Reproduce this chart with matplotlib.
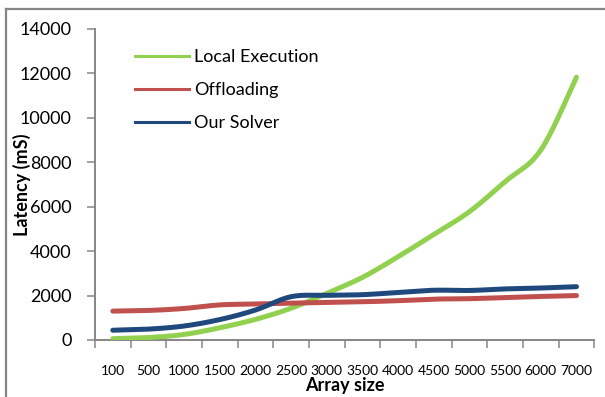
import numpy as np
import matplotlib
matplotlib.use("Agg")
import matplotlib.pyplot as plt
from matplotlib.lines import Line2D

plt.rcParams['font.family'] = ['Lato', 'DejaVu Sans']

# Array sizes and measured latencies (ms)
sizes = ["100", "500", "1000", "1500", "2000", "2500", "3000",
         "3500", "4000", "4500", "5000", "5500", "6000", "7000"]
local_execution = [60, 110, 250, 550, 930, 1430, 2100,
                   2820, 3750, 4750, 5780, 7130, 8550, 11830]
offloading = [1300, 1330, 1420, 1580, 1620, 1660, 1690,
              1720, 1770, 1840, 1860, 1910, 1960, 2000]
our_solver = [440, 490, 630, 920, 1350, 1950, 2010,
              2040, 2140, 2240, 2230, 2300, 2340, 2400]

series = [
    ("Local Execution", local_execution, "#92D050"),
    ("Offloading", offloading, "#C0504D"),
    ("Our Solver", our_solver, "#1F497D"),
]


def smooth(x, y, n=24):
    """Catmull-Rom curve through the points (Excel-style smoothed line)."""
    x = np.asarray(x, float)
    y = np.asarray(y, float)
    px = np.concatenate([[x[0]], x, [x[-1]]])
    py = np.concatenate([[y[0]], y, [y[-1]]])
    xs, ys = [], []
    for i in range(1, len(px) - 2):
        t = np.linspace(0, 1, n, endpoint=(i == len(px) - 3))
        for p, out in ((px, xs), (py, ys)):
            p0, p1, p2, p3 = p[i - 1], p[i], p[i + 1], p[i + 2]
            c1 = p1 + (p2 - p0) / 6
            c2 = p2 - (p3 - p1) / 6
            out.append((1 - t) ** 3 * p1 + 3 * (1 - t) ** 2 * t * c1
                       + 3 * (1 - t) * t ** 2 * c2 + t ** 3 * p2)
    return np.concatenate(xs), np.concatenate(ys)


W, H = 605, 397
AX_L, AX_R, AX_T, AX_B = 95, 594.3, 29, 340
fig = plt.figure(figsize=(W / 100, H / 100), dpi=100)
ax = fig.add_axes([AX_L / W, (H - AX_B) / H, (AX_R - AX_L) / W, (AX_B - AX_T) / H])


def ax_x(px):
    return (px - AX_L) / (AX_R - AX_L)


def ax_y(py):
    return (AX_B - py) / (AX_B - AX_T)


xpos = np.arange(len(sizes)) + 0.5
handles = []
for name, vals, color in series:
    sx, sy = smooth(xpos, vals)
    ax.plot(sx, sy, color=color, lw=3.6, solid_capstyle='round', zorder=3)
    handles.append(Line2D([0], [0], color=color, lw=2.2))

axis_grey = "#868686"
ax.set_xlim(0, len(sizes))
ax.set_ylim(0, 14000)
ax.set_yticks(np.arange(0, 14001, 2000))
ax.tick_params(axis='y', labelsize=13, length=6, width=1.1, color=axis_grey,
               pad=11)
ax.set_xticks(np.arange(0, len(sizes) + 1))
ax.set_xticklabels([])
ax.set_xticks(xpos, minor=True)
ax.set_xticklabels(sizes, minor=True)
ax.tick_params(axis='x', which='major', length=6, width=1.1, color=axis_grey)
ax.tick_params(axis='x', which='minor', length=0, labelsize=10, pad=18)

for s in ('top', 'right'):
    ax.spines[s].set_visible(False)
for s in ('left', 'bottom'):
    ax.spines[s].set_color(axis_grey)
    ax.spines[s].set_linewidth(1.4)

ax.set_xlabel("Array size", fontsize=13, fontweight='bold')
ax.xaxis.set_label_coords(0.5, ax_y(386))
ax.xaxis.label.set_va('center')
ax.set_ylabel("Latency (mS)", fontsize=13, fontweight='bold')
ax.yaxis.set_label_coords(ax_x(22), 0.5)
ax.yaxis.label.set_va('center')

ax.legend(handles, [s[0] for s in series], loc='upper left',
          bbox_to_anchor=(ax_x(135), ax_y(49)),
          frameon=False, fontsize=13, handlelength=3.0, handletextpad=0.25,
          labelspacing=0.95, borderpad=0, borderaxespad=0)

# Outer chart-area border (left and top edges)
fig.add_artist(Line2D([6 / W, 6 / W], [0, 1 - 8.5 / H], transform=fig.transFigure,
                      color=axis_grey, lw=1.6))
fig.add_artist(Line2D([6 / W, 1], [1 - 8.5 / H, 1 - 8.5 / H],
                      transform=fig.transFigure, color=axis_grey, lw=1.6))

fig.savefig("out.png", dpi=100)
